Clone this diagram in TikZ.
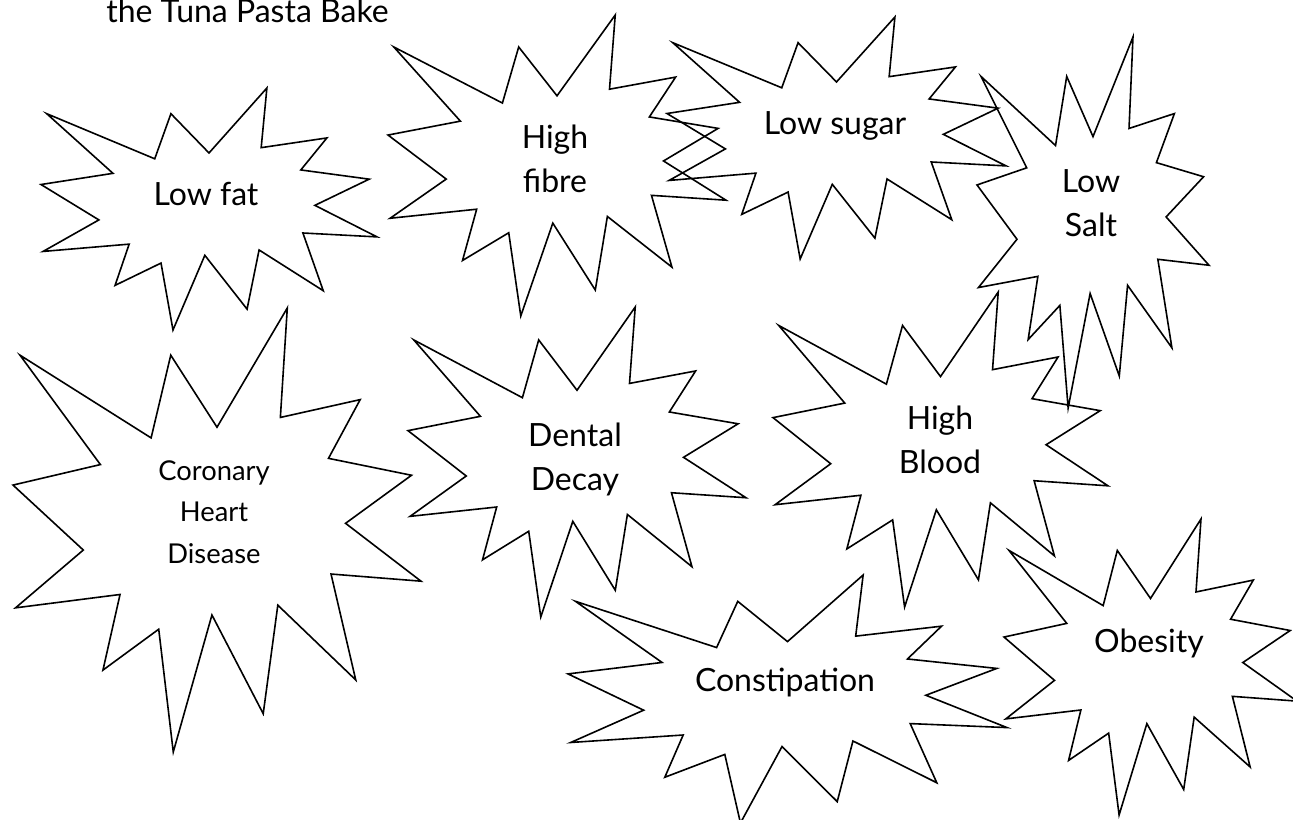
\documentclass[tikz,border=0pt]{standalone}
\usepackage{fontspec}
\setmainfont{Lato}
\tikzset{
  burst line/.style={line width=1.2pt},
  % Explosion outline in a unit box, y pointing down
  burst/.pic={
    \draw[burst line] (0.5,0.26852) -- (0.67231,0) -- (0.65532,0.24653) -- (0.85093,0.20634)
      -- (0.77324,0.33866) -- (0.97671,0.37671) -- (0.81514,0.48495) -- (1,0.61528)
      -- (0.77949,0.59917) -- (0.84005,0.83773) -- (0.64907,0.66931) -- (0.61329,0.91375)
      -- (0.48759,0.69144) -- (0.39282,1) -- (0.35718,0.72347) -- (0.22046,0.81560)
      -- (0.26236,0.64523) -- (0.00625,0.67532) -- (0.17231,0.54514) -- (0,0.39884)
      -- (0.21421,0.35264) -- (0.01713,0.10625) -- (0.33852,0.29259) -- (0.38667,0.10625)
      -- cycle;
  },
  % anchor sits on the baseline of the last line
  burst text/.style={inner sep=0pt, align=center, anchor=base,
    font=\fontsize{24}{33}\selectfont},
  small text/.style={font=\fontsize{20.5}{31}\selectfont}
}
\begin{document}
\begin{tikzpicture}[x=0.75pt,y=-0.75pt]
\useasboundingbox (0,0) rectangle (1293,820);
\clip (0,0) rectangle (1293,820);

\node[burst text, anchor=base west] (title) at (106,23) {the Tuna Pasta Bake};

% top row
\pic[xscale=336, yscale=242] at (41,88) {burst};
\node[burst text] (lowfat) at (206,206) {Low fat};
\pic[xscale=338, yscale=301] at (388,15) {burst};
\node[burst text] (highfibre) at (555,193) {High\\fibre};
\pic[xscale=339, yscale=242] at (667,17) {burst};
\node[burst text] (lowsugar) at (835,135) {Low sugar};
\pic[xscale=232, yscale=371] at (977,37) {burst};
\node[burst text] (lowsalt) at (1091,237) {Low\\Salt};

% middle row
\pic[xscale=408, yscale=444] at (13,308) {burst};
\node[burst text, small text] (coronary) at (214,563) {Coronary\\Heart\\Disease};
\pic[xscale=338, yscale=310] at (408,307) {burst};
\node[burst text] (dental) at (575,490) {Dental\\Decay};
\pic[xscale=335, yscale=315] at (773,292) {burst};
\node[burst text] (highblood) at (940,473) {High\\Blood};

% bottom row
\pic[xscale=439, yscale=248] at (568,575) {burst};
\node[burst text] (constipation) at (785,691) {Constipation};
\pic[xscale=293, yscale=296] at (1004,519) {burst};
\node[burst text] (obesity) at (1149,652) {Obesity};
\end{tikzpicture}
\end{document}
